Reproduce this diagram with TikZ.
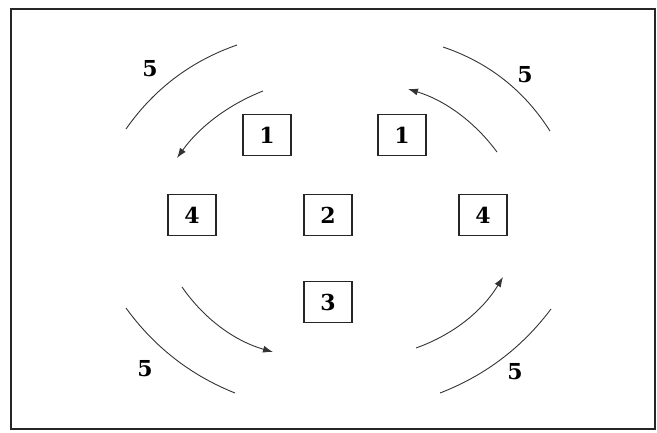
\documentclass[tikz,border=0pt]{standalone}
\usepackage{fontspec}
\newfontfamily\numfont{DejaVu Serif}
\usetikzlibrary{arrows.meta}
\begin{document}
\begin{tikzpicture}[x=1pt,y=-1pt,
  numbox/.style={draw=black!85,line width=1.3pt,minimum width=48pt,minimum height=41pt,inner sep=0pt,font=\numfont\fontsize{22}{24}\selectfont\bfseries},
  lbl/.style={font=\numfont\fontsize{22}{24}\selectfont\bfseries,inner sep=0pt},
  flow/.style={draw=black!80,line width=0.9pt},
  arr/.style={flow,-{Latex[length=10pt,width=7pt]}}]
\useasboundingbox (0,0) rectangle (657,432);
\draw[line width=2pt,black!85] (11,9) rectangle (655,429);
% boxes
\node[numbox] (b1l) at (267,135) {1};
\node[numbox] (b1r) at (402,135) {1};
\node[numbox] (b4l) at (192,215) {4};
\node[numbox] (b2) at (328,215) {2};
\node[numbox] (b4r) at (483,215) {4};
\node[numbox] (b3) at (328,302) {3};
% labels 5
\node[lbl] (l5a) at (150,69) {5};
\node[lbl] (l5b) at (525,75) {5};
\node[lbl] (l5c) at (145,369) {5};
\node[lbl] (l5d) at (515,372) {5};
% outer arcs
\coordinate (a1s) at (126,129); \coordinate (a1e) at (237,45);
\draw[flow] (a1s) .. controls (154,89) and (191,61) .. (a1e);
\coordinate (a2s) at (443,47); \coordinate (a2e) at (550,131);
\draw[flow] (a2s) .. controls (488.6,62.4) and (524.2,90.4) .. (a2e);
\coordinate (a3s) at (126,308); \coordinate (a3e) at (235,393);
\draw[flow] (a3s) .. controls (154.1,346.8) and (190.5,375.2) .. (a3e);
\coordinate (a4s) at (440,393); \coordinate (a4e) at (551,309);
\draw[flow] (a4s) .. controls (485,375.6) and (522,347.6) .. (a4e);
% inner arrows
\coordinate (r1s) at (263,91); \coordinate (r1e) at (177,158);
\draw[arr] (r1s) .. controls (227.7,104.9) and (199.1,127.3) .. (r1e);
\coordinate (r2s) at (497,152); \coordinate (r2e) at (408,89);
\draw[arr] (r2s) .. controls (474.2,121.2) and (444.6,100.2) .. (r2e);
\coordinate (r3s) at (182,287); \coordinate (r3e) at (273,352);
\draw[arr] (r3s) .. controls (204.6,319.5) and (235,341.1) .. (r3e);
\coordinate (r4s) at (416,348); \coordinate (r4e) at (503,277);
\draw[arr] (r4s) .. controls (453.4,334.6) and (482.4,311) .. (r4e);
\end{tikzpicture}
\end{document}
